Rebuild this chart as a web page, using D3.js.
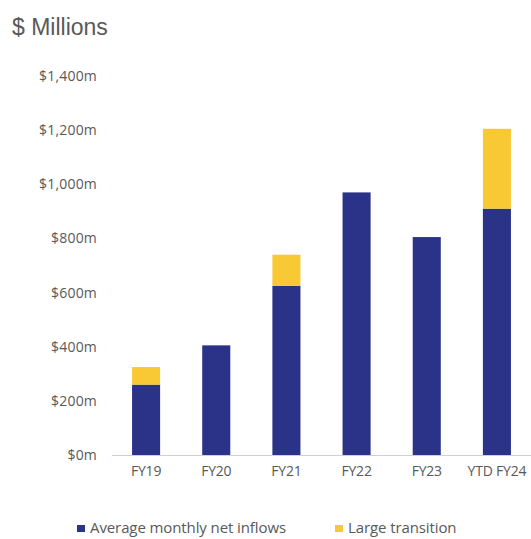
<!DOCTYPE html>
<html>
<head>
<meta charset="utf-8">
<script src="https://cdn.jsdelivr.net/npm/d3@7"></script>
<style>
  body { margin: 0; background: #fff; }
</style>
</head>
<body>
<div id="container"></div>
<script>
let w = 531;
let h = 539;

// data
let categories = ["FY19", "FY20", "FY21", "FY22", "FY23", "YTD FY24"];
let netInflows = [260, 405, 625, 970, 805, 910];
let largeTransition = [65, 0, 115, 0, 0, 295];
let yTicks = [0, 200, 400, 600, 800, 1000, 1200, 1400];
let seriesNames = ["Average monthly net inflows", "Large transition"];

let blue = "#2b3388";
let yellow = "#f9c935";
let textGrey = "#595959";

let viz = d3.select("#container")
  .append("svg")
    .attr("width", w)
    .attr("height", h)
;

// title
viz.append("text")
  .text("$ Millions")
  .attr("x", 12)
  .attr("y", 35)
  .attr("font-family", "Liberation Sans, Arial, sans-serif")
  .attr("font-size", 23)
  .attr("fill", textGrey)
;

let xScale = d3.scaleBand().domain(categories).range([111, 532]).paddingInner(0.6).paddingOuter(0.3);
let yScale = d3.scaleLinear().domain([0, 1400]).range([455, 76]);

// y axis (labels only)
let yAxisGroup = viz.append("g").attr("class", "yaxis");
let yAxis = d3.axisLeft(yScale).tickValues(yTicks).tickSize(0).tickPadding(0)
  .tickFormat(function(d){ return "$" + d3.format(",")(d) + "m"; });
yAxisGroup.call(yAxis);
yAxisGroup.attr("transform", "translate(97, 0)");
yAxisGroup.select(".domain").remove();
yAxisGroup.selectAll("text")
  .attr("font-family", "Open Sans, sans-serif")
  .attr("font-size", 14)
  .attr("letter-spacing", 0.2)
  .attr("fill", textGrey)
;

// stacked bars
let stackRows = categories.map(function(c, i){
  return { cat: c, net: netInflows[i], large: largeTransition[i] };
});
let stack = d3.stack().keys(["net", "large"]);
let layers = stack(stackRows);
let colors = [blue, yellow];

let vizGroup = viz.append("g").attr("class", "vizGroup");
layers.forEach(function(layer, k){
  vizGroup.selectAll(".bar" + k)
    .data(layer.filter(function(d){ return d[1] > d[0]; }))
    .enter()
    .append("rect")
      .attr("class", "bar" + k)
      .attr("x", function(d){ return xScale(d.data.cat); })
      .attr("width", xScale.bandwidth())
      .attr("y", function(d){ return yScale(d[1]); })
      .attr("height", function(d){ return yScale(d[0]) - yScale(d[1]); })
      .attr("fill", colors[k])
  ;
});

// x axis
let xAxisGroup = viz.append("g").attr("class", "xaxis");
let xAxis = d3.axisBottom(xScale).tickSize(0).tickPadding(11);
xAxisGroup.call(xAxis);
xAxisGroup.attr("transform", "translate(0, 455)");
xAxisGroup.select(".domain").attr("stroke", "#d0d0d0").attr("d", "M112,0.5H531");
xAxisGroup.selectAll("text")
  .attr("font-family", "Open Sans, sans-serif")
  .attr("font-size", 14)
  .attr("letter-spacing", -0.2)
  .attr("fill", textGrey)
;

// legend
let legendX = [77, 335];
let legend = viz.append("g").attr("class", "legend");
seriesNames.forEach(function(name, i){
  legend.append("rect")
    .attr("x", legendX[i])
    .attr("y", 525)
    .attr("width", 8)
    .attr("height", 7)
    .attr("fill", colors[i]);
  legend.append("text")
    .text(name)
    .attr("x", legendX[i] + 13)
    .attr("y", 533)
    .attr("font-family", "Open Sans, sans-serif")
    .attr("font-size", 15)
    .attr("letter-spacing", -0.1)
    .attr("fill", textGrey);
});
</script>
</body>
</html>
